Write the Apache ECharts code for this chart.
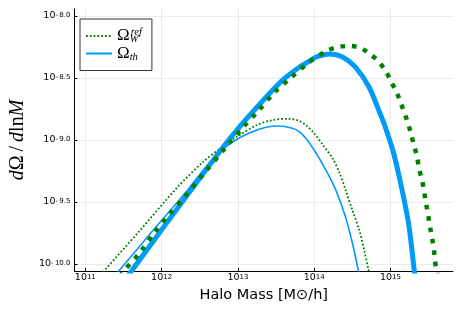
<!DOCTYPE html>
<html><head><meta charset="utf-8">
<script src="https://cdn.jsdelivr.net/npm/echarts@6/dist/echarts.min.js"></script>
<style>html,body{margin:0;padding:0;background:#fff}#c{width:463px;height:309px}</style>
</head><body><div id="c"></div>
<script>
// tick exponents (log10)
const xTickExps = [11, 12, 13, 14, 15];
const yTickExps = [-10.0, -9.5, -9.0, -8.5, -8.0];

// Omega_W^ref (thin dotted, small): log10 M, log10 dOmega/dlnM
const refSmallLogM = [11.20, 11.245, 11.70, 12.210, 12.544, 12.763, 12.982, 13.252, 13.45, 13.65, 13.80, 13.90, 13.986, 14.115, 14.243, 14.333, 14.411, 14.501, 14.591, 14.655, 14.707, 14.73];
const refSmallLogW = [-10.089, -10.056, -9.74, -9.379, -9.177, -9.07, -8.976, -8.879, -8.84, -8.829, -8.845, -8.885, -8.935, -9.040, -9.15, -9.266, -9.40, -9.565, -9.726, -9.887, -10.032, -10.10];

// Omega_th (thin solid, small)
const thSmallLogM = [11.35, 11.438, 11.90, 12.287, 12.55, 12.763, 12.931, 13.149, 13.368, 13.535, 13.703, 13.80, 13.896, 14.024, 14.153, 14.282, 14.411, 14.501, 14.578, 14.60];
const thSmallLogW = [-10.12, -10.056, -9.72, -9.444, -9.24, -9.095, -9.016, -8.944, -8.898, -8.887, -8.903, -8.93, -8.99, -9.105, -9.242, -9.40, -9.62, -9.83, -10.048, -10.11];

// Omega_W^ref (thick dotted, large)
const refLargeLogM = [11.45, 11.528, 11.721, 11.901, 12.094, 12.287, 12.570, 12.866, 13.059, 13.265, 13.471, 13.690, 13.921, 14.166, 14.320, 14.462, 14.604, 14.732, 14.848, 14.938, 15.003, 15.080, 15.131, 15.183, 15.234, 15.273, 15.311, 15.350, 15.376, 15.414, 15.440, 15.466, 15.492, 15.517, 15.543, 15.569, 15.582, 15.607, 15.62];
const refLargeLogW = [-10.10, -10.040, -9.903, -9.75, -9.605, -9.468, -9.258, -9.040, -8.903, -8.766, -8.621, -8.50, -8.379, -8.282, -8.25, -8.242, -8.258, -8.306, -8.371, -8.444, -8.524, -8.613, -8.694, -8.782, -8.871, -8.960, -9.048, -9.137, -9.234, -9.323, -9.411, -9.508, -9.597, -9.694, -9.782, -9.879, -9.968, -10.056, -10.11];

// Omega_th (thick solid, large)
const thLargeLogM = [11.55, 11.605, 12.10, 12.609, 12.802, 13.0, 13.2, 13.4, 13.6, 13.8, 13.921, 14.024, 14.205, 14.372, 14.539, 14.719, 14.861, 14.912, 15.041, 15.144, 15.234, 15.275, 15.311, 15.33];
const thLargeLogW = [-10.10, -10.056, -9.64, -9.218, -9.06, -8.91, -8.77, -8.635, -8.51, -8.415, -8.371, -8.331, -8.306, -8.331, -8.411, -8.573, -8.782, -8.86, -9.105, -9.379, -9.66, -9.85, -10.048, -10.15];

function pairs(a, b) { return a.map((v, i) => [v, b[i]]); }

const GREEN = '#008000';
const BLUE = '#009AFA';
const chart = echarts.init(document.getElementById('c'));

const labRichX = {
  b: { fontFamily: 'DejaVu Sans', fontSize: 9.5, lineHeight: 9, color: '#000', padding: [5, 0, 0, 0], verticalAlign: 'bottom' },
  s: { fontFamily: 'DejaVu Sans', fontSize: 7, lineHeight: 7, color: '#000', verticalAlign: 'top' }
};
const labRichY = {
  b: { fontFamily: 'DejaVu Sans', fontSize: 9.5, lineHeight: 9, color: '#000', padding: [3, 0, 0, 0], verticalAlign: 'bottom' },
  s: { fontFamily: 'DejaVu Sans', fontSize: 7, lineHeight: 7, color: '#000', verticalAlign: 'top' }
};

chart.setOption({
  animation: false,
  backgroundColor: '#fff',
  grid: { left: 67, top: 9, right: 10, bottom: 38 },
  xAxis: {
    type: 'value', min: 10.858, max: 15.82,
    axisLine: { lineStyle: { color: '#000', width: 1 } },
    axisTick: { inside: true, length: 3, customValues: xTickExps, lineStyle: { color: '#000' } },
    axisLabel: { customValues: xTickExps, margin: 3, formatter: v => '{b|10}{s|' + Math.round(v) + '}', rich: labRichX },
    splitLine: { show: true, lineStyle: { color: '#ebebeb', width: 1 } },
    name: 'Halo Mass [M\u2299/h]', nameLocation: 'middle', nameGap: 17,
    nameTextStyle: { fontFamily: 'DejaVu Sans', fontSize: 14.5, color: '#000' }
  },
  yAxis: {
    type: 'value', min: -10.056, max: -7.944,
    axisLine: { show: true, lineStyle: { color: '#000', width: 1 } },
    axisTick: { show: true, inside: true, length: 3, customValues: yTickExps, lineStyle: { color: '#000' } },
    axisLabel: { customValues: yTickExps, margin: 4, formatter: v => { const a = Math.abs(v).toFixed(1); return '{b|10}{s|-\u2009' + a + '}'; }, rich: labRichY },
    splitLine: { show: true, lineStyle: { color: '#ebebeb', width: 1 } },
    name: '{i|d}\u03A9\u2009/\u2009{i|d}ln{i|M}', nameLocation: 'middle', nameGap: 44, nameRotate: 90,
    nameTextStyle: { fontFamily: 'Liberation Serif', fontSize: 20, color: '#000',
      rich: { i: { fontFamily: 'Liberation Serif', fontStyle: 'italic', fontSize: 20, color: '#000' } } }
  },
  legend: {
    left: 80, top: 19, orient: 'vertical',
    data: ['W', 'th'],
    padding: [8, 10, 8, 5], itemGap: 0, itemWidth: 26, itemHeight: 14,
    borderColor: '#333', borderWidth: 1, backgroundColor: '#fff',
    selectedMode: false,
    itemStyle: { opacity: 0 },
    formatter: n => n === 'W' ? '{o|\u03A9}{sub|W}{sup|ref}' : '{o|\u03A9}{sub|th}',
    textStyle: {
      rich: {
        o: { fontFamily: 'Liberation Serif', fontSize: 17, lineHeight: 18, color: '#000', verticalAlign: 'middle' },
        sub: { fontFamily: 'Liberation Serif', fontStyle: 'italic', fontSize: 10.5, lineHeight: 6, color: '#000', verticalAlign: 'bottom', width: 1 },
        sup: { fontFamily: 'Liberation Serif', fontStyle: 'italic', fontSize: 10.5, lineHeight: 6, color: '#000', verticalAlign: 'top' }
      }
    }
  },
  series: [
    { name: 'W', type: 'line', data: pairs(refSmallLogM, refSmallLogW), symbol: 'none', smooth: 0.3,
      lineStyle: { color: GREEN, width: 1.8, type: [1.8, 2], cap: 'butt' }, itemStyle: { color: GREEN }, z: 3 },
    { name: 'th', type: 'line', data: pairs(thSmallLogM, thSmallLogW), symbol: 'none', smooth: 0.3,
      lineStyle: { color: BLUE, width: 1.6 }, itemStyle: { color: BLUE }, z: 2 },
    { name: 'th', type: 'line', data: pairs(thLargeLogM, thLargeLogW), symbol: 'none', smooth: 0.3,
      lineStyle: { color: BLUE, width: 5 }, itemStyle: { color: BLUE }, z: 4 },
    { name: 'W', type: 'line', data: pairs(refLargeLogM, refLargeLogW), symbol: 'none', smooth: 0.3,
      lineStyle: { color: GREEN, width: 4.5, type: [4.5, 7], cap: 'butt' }, itemStyle: { color: GREEN }, z: 5 }
  ]
});
</script></body></html>
